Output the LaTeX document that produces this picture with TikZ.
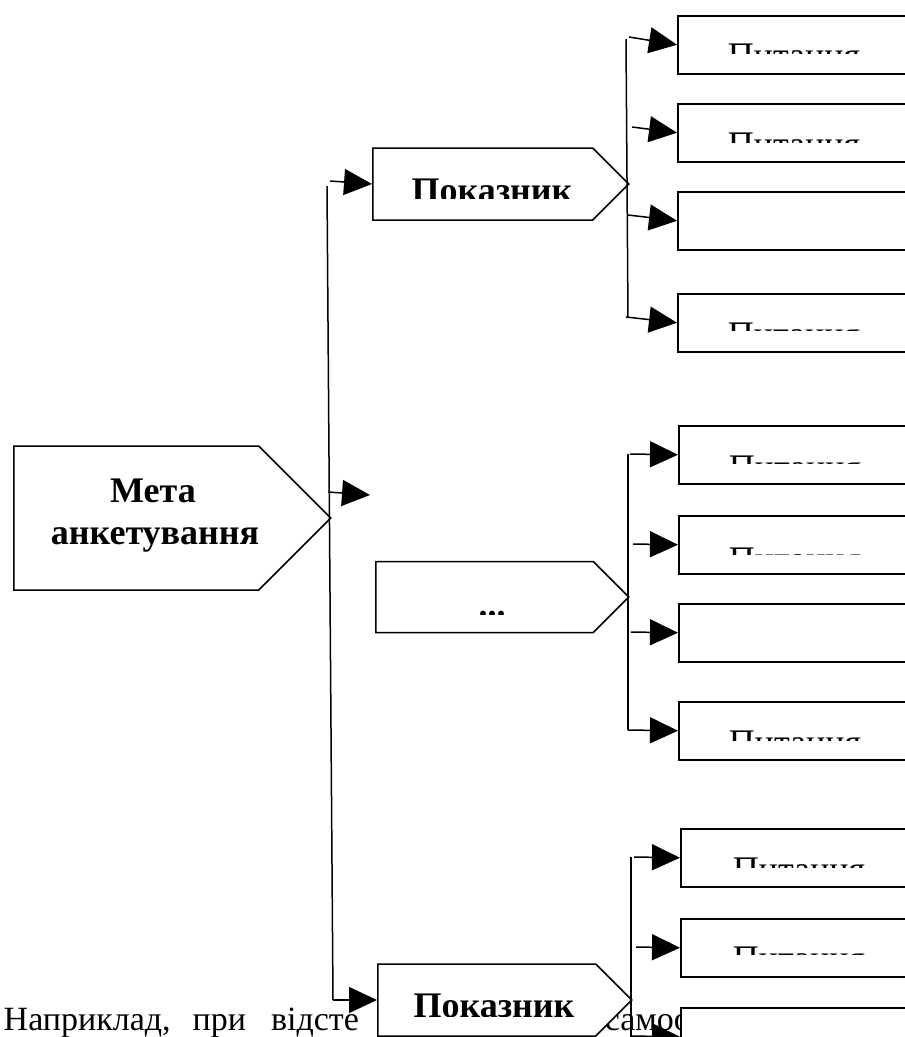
\documentclass[tikz,border=0pt]{standalone}
\usepackage{fontspec}
\setmainfont{Liberation Serif}
\usetikzlibrary{shapes.symbols, arrows.meta, calc}

\begin{document}
\begin{tikzpicture}[x=1pt, y=-1pt, line width=1.5pt,
	sig/.style={draw, fill=white, shape=signal, signal to=east,
		signal pointer angle=90, inner sep=0pt, anchor=west},
	qbox/.style={draw, fill=white, rectangle, minimum width=240pt,
		minimum height=58pt, inner sep=0pt, anchor=north west},
	qtext/.style={font=\fontsize{36}{43}\selectfont, inner sep=0pt, anchor=base west},
	btext/.style={font=\fontsize{36}{43}\selectfont\bfseries, inner sep=0pt, anchor=base},
	arr/.style={-{Triangle[length=28pt,width=26pt]}}]
	\useasboundingbox (0,0) rectangle (905,1037);
	\clip (0,0) rectangle (905,1037);
	% text of the page under the scheme
	\node[font=\fontsize{34}{40}\selectfont, inner sep=0pt, anchor=base west] (body1) at (3,1030)
		{Наприклад,\hspace{22pt}при\hspace{25pt}відсте};
	\node[font=\fontsize{34}{40}\selectfont, inner sep=0pt, anchor=base west] (body2) at (604,1030) {самоо};
	% goal and indicators
	\node[sig, minimum width=317pt, minimum height=144pt] (goal) at (13,518) {};
	\node[btext] (g1) at (153,502) {Мета};
	\node[btext] (g2) at (155,544) {анкетування};
	\node[sig, minimum width=256pt, minimum height=72pt] (pokaz1) at (372,184) {};
	\node[sig, minimum width=253pt, minimum height=71pt] (dots) at (375,597) {};
	\node[sig, minimum width=254pt, minimum height=72pt] (pokaz2) at (377,1000) {};
	\begin{scope}
		\clip (372,148) rectangle (628,198);
		\node[btext] (p1) at (492,202) {Показник};
	\end{scope}
	\begin{scope}
		\clip (375,562) rectangle (628,614);
		\node[btext] (pd) at (492,616) {...};
	\end{scope}
	\begin{scope}
		\clip (377,964) rectangle (631,1016);
		\node[btext] (p2) at (494,1017) {Показник};
	\end{scope}
	% questions
	\node[qbox] (q11) at (677,15) {};
	\node[qbox] (q12) at (677,103) {};
	\node[qbox] (q13) at (677,191) {};
	\node[qbox] (q14) at (677,293) {};
	\node[qbox] (q21) at (678,425) {};
	\node[qbox] (q22) at (678,515) {};
	\node[qbox] (q23) at (678,603) {};
	\node[qbox] (q24) at (678,701) {};
	\node[qbox] (q31) at (680,828) {};
	\node[qbox] (q32) at (680,918) {};
	\node[qbox] (q33) at (680,1007) {};
	\begin{scope}
		\clip (q11.north west) rectangle (905,53);
		\node[qtext] (t11) at (727,67) {Питання};
	\end{scope}
	\begin{scope}
		\clip (q12.north west) rectangle (905,142);
		\node[qtext] (t12) at (727,156) {Питання};
	\end{scope}
	\begin{scope}
		\clip (q14.north west) rectangle (905,330);
		\node[qtext] (t14) at (727,346) {Питання};
	\end{scope}
	\begin{scope}
		\clip (q21.north west) rectangle (905,463);
		\node[qtext] (t21) at (728,479) {Питання};
	\end{scope}
	\begin{scope}
		\clip (q22.north west) rectangle (905,554);
		\node[qtext] (t22) at (728,571) {Питання};
	\end{scope}
	\begin{scope}
		\clip (q24.north west) rectangle (905,740);
		\node[qtext] (t24) at (728,754) {Питання};
	\end{scope}
	\begin{scope}
		\clip (q31.north west) rectangle (905,867);
		\node[qtext] (t31) at (732,881) {Питання};
	\end{scope}
	\begin{scope}
		\clip (q32.north west) rectangle (905,954);
		\node[qtext] (t32) at (732,970) {Питання};
	\end{scope}
	% main trunk
	\coordinate (mtop) at (327,186);
	\coordinate (mbot) at (333,1000);
	\coordinate (m1) at (330,181);
	\coordinate (m2) at (328,492);
	\coordinate (mend) at (370,495);
	\draw (mtop) to (mbot);
	\draw[arr] (m1) to (pokaz1.west);
	\draw[arr] (m2) to (mend);
	\draw[arr] (mbot) to (pokaz2.west);
	% first group
	\coordinate (atop) at (626,39);
	\coordinate (abot) at (628,318);
	\draw (atop) to (abot);
	\draw[arr] (629,37) to (q11.west);
	\draw[arr] (632,127) to (q12.west);
	\draw[arr] (628,215) to (q13.west);
	\draw[arr] (626,317) to (q14.west);
	% second group
	\coordinate (btop) at (628,454);
	\coordinate (bbot) at (628,730);
	\draw (btop) to (bbot);
	\draw[arr] (630,454) to (q21.west);
	\draw[arr] (633,544) to (q22.west);
	\draw[arr] (631,632) to (q23.west);
	\draw[arr] (bbot) to (q24.west);
	% third group
	\coordinate (ctop) at (631,857);
	\coordinate (cbot) at (631,1045);
	\draw (ctop) to (cbot);
	\draw[arr] (634,857) to (q31.west);
	\draw[arr] (636,947) to (q32.west);
	\draw[arr] (631,1036) to (q33.west);
\end{tikzpicture}
\end{document}
